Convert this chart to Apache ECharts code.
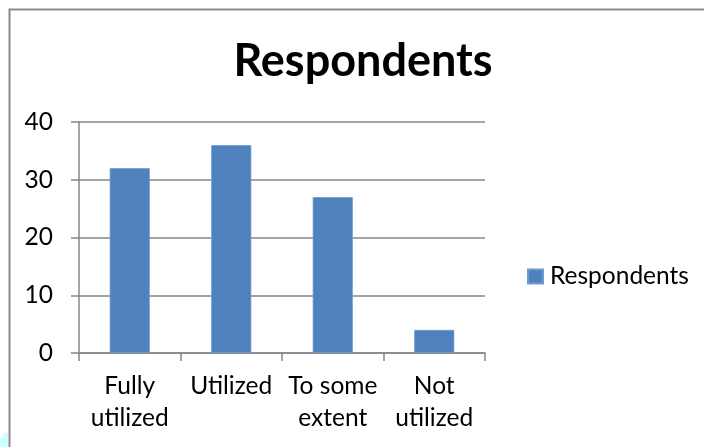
<!DOCTYPE html>
<html>
<head>
<meta charset="utf-8">
<script src="https://cdn.jsdelivr.net/npm/echarts@6/dist/echarts.min.js"></script>
<style>
  html, body { margin: 0; padding: 0; background: #ffffff; }
  #chart { width: 704px; height: 447px; }
</style>
</head>
<body>
<div id="chart"></div>
<script>
// Survey answers: how fully the resource is used
const categories = ['Fully\nutilized', 'Utilized', 'To some\nextent', 'Not\nutilized'];
const respondents = [32, 36, 27, 4];
const yTicks = [0, 10, 20, 30, 40];
const seriesName = 'Respondents';

const FONT = 'Lato, "Open Sans", sans-serif';
const GREY = '#878787';

const chart = echarts.init(document.getElementById('chart'), null, { renderer: 'canvas' });

chart.setOption({
  animation: false,
  backgroundColor: '#ffffff',
  title: {
    text: seriesName,
    left: 358,
    textAlign: 'center',
    top: 34,
    textStyle: { fontFamily: FONT, fontWeight: 'bold', fontSize: 45, color: '#000000' }
  },
  legend: {
    data: [seriesName],
    left: 527,
    top: 264,
    padding: 0,
    itemWidth: 15,
    itemHeight: 14,
    itemGap: 8,
    icon: 'rect',
    textStyle: { fontFamily: FONT, fontSize: 24.5, color: '#000000', padding: [0, 0, 0, 2] }
  },
  grid: { left: 79, right: 219, top: 122, bottom: 94, containLabel: false },
  xAxis: {
    type: 'category',
    data: categories,
    axisLine: { lineStyle: { color: GREY, width: 1.5 } },
    axisTick: { show: true, alignWithLabel: false, length: 8, lineStyle: { color: GREY, width: 1.5 } },
    axisLabel: {
      fontFamily: FONT, fontSize: 24.5, color: '#000000',
      lineHeight: 32, margin: 17, interval: 0
    },
    splitLine: { show: false }
  },
  yAxis: {
    type: 'value',
    min: yTicks[0],
    max: yTicks[yTicks.length - 1],
    interval: 10,
    axisLine: { show: true, lineStyle: { color: GREY, width: 1.5 } },
    axisTick: { show: true, length: 8, lineStyle: { color: GREY, width: 1.5 } },
    axisLabel: { fontFamily: FONT, fontSize: 24.5, color: '#000000', margin: 26 },
    splitLine: { show: true, lineStyle: { color: GREY, width: 1.5 } }
  },
  series: [{
    name: seriesName,
    type: 'bar',
    data: respondents,
    barWidth: '39.5%',
    itemStyle: { color: '#4F81BD', borderColor: '#6E9AD0', borderWidth: 0.8 }
  }],
  graphic: [
    {
      type: 'rect',
      shape: { x: 9.5, y: 9.5, width: 760, height: 500 },
      style: { fill: 'none', stroke: '#8a8a8a', lineWidth: 2 },
      silent: true
    },
    {
      type: 'polygon',
      shape: { points: [[0, 447], [0, 438], [3, 438], [3, 433], [8, 433], [8, 447]] },
      style: { fill: '#ccffff' },
      silent: true
    }
  ]
});
</script>
</body>
</html>
